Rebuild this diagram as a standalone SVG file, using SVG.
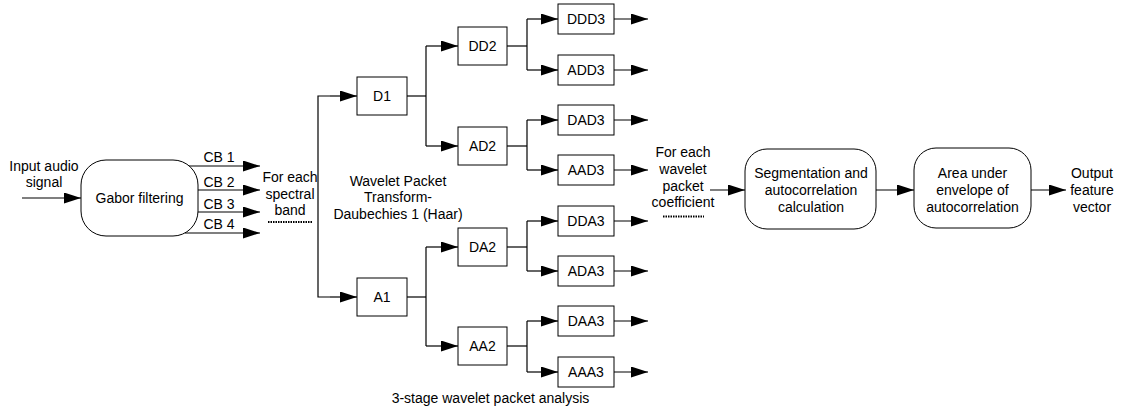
<svg xmlns="http://www.w3.org/2000/svg" width="1125" height="410" viewBox="0 0 1125 410">
  <style>
    text { font-family: "Liberation Sans", Arial, sans-serif; font-size: 14px; fill: #000; text-anchor: middle; }
    .box { fill: #fff; stroke: #000; stroke-width: 1; }
    .wire { fill: none; stroke: #000; stroke-width: 1.2; }
    .arrow { fill: none; stroke: #000; stroke-width: 1.2; marker-end: url(#head); }
    .dots { fill: none; stroke: #000; stroke-width: 2; stroke-dasharray: 1.5 1; }
  </style>
  <defs>
    <marker id="head" markerUnits="userSpaceOnUse" markerWidth="17" markerHeight="11" refX="17" refY="5.5" orient="auto">
      <path d="M0,0 L17,5.5 L0,11 Z" fill="#000"/>
    </marker>
  </defs>

  <rect width="1125" height="410" fill="#fff"/>

  <!-- connectors -->
  <g id="connectors">
    <!-- input and Gabor outputs -->
    <line class="arrow" x1="22" y1="198" x2="81" y2="198"/>
    <line class="arrow" x1="189" y1="166" x2="260" y2="166"/>
    <line class="arrow" x1="198" y1="190" x2="260" y2="190"/>
    <line class="arrow" x1="198" y1="212" x2="260" y2="212"/>
    <line class="arrow" x1="185" y1="233" x2="260" y2="233"/>
    <!-- split into D1 / A1 -->
    <polyline class="wire" points="330,96 318,96 318,297 330,297"/>
    <line class="arrow" x1="330" y1="96" x2="357" y2="96"/>
    <line class="arrow" x1="330" y1="297" x2="357" y2="297"/>
    <!-- level 1 to level 2 -->
    <line class="wire" x1="407" y1="96" x2="426" y2="96"/>
    <line class="wire" x1="426" y1="46" x2="426" y2="146"/>
    <line class="arrow" x1="426" y1="46" x2="458" y2="46"/>
    <line class="arrow" x1="426" y1="146" x2="458" y2="146"/>
    <line class="wire" x1="407" y1="297" x2="426" y2="297"/>
    <line class="wire" x1="426" y1="247" x2="426" y2="346"/>
    <line class="arrow" x1="426" y1="247" x2="458" y2="247"/>
    <line class="arrow" x1="426" y1="346" x2="458" y2="346"/>
    <!-- level 2 to level 3 -->
    <line class="wire" x1="507" y1="46" x2="527" y2="46"/>
    <line class="wire" x1="527" y1="19" x2="527" y2="70"/>
    <line class="arrow" x1="527" y1="19" x2="558" y2="19"/>
    <line class="arrow" x1="527" y1="70" x2="558" y2="70"/>
    <line class="wire" x1="507" y1="146" x2="527" y2="146"/>
    <line class="wire" x1="527" y1="120" x2="527" y2="170"/>
    <line class="arrow" x1="527" y1="120" x2="558" y2="120"/>
    <line class="arrow" x1="527" y1="170" x2="558" y2="170"/>
    <line class="wire" x1="507" y1="247" x2="527" y2="247"/>
    <line class="wire" x1="527" y1="221" x2="527" y2="271"/>
    <line class="arrow" x1="527" y1="221" x2="558" y2="221"/>
    <line class="arrow" x1="527" y1="271" x2="558" y2="271"/>
    <line class="wire" x1="507" y1="346" x2="527" y2="346"/>
    <line class="wire" x1="527" y1="321" x2="527" y2="372"/>
    <line class="arrow" x1="527" y1="321" x2="558" y2="321"/>
    <line class="arrow" x1="527" y1="372" x2="558" y2="372"/>
    <!-- level 3 outputs -->
    <line class="arrow" x1="614" y1="19" x2="648" y2="19"/>
    <line class="arrow" x1="614" y1="70" x2="648" y2="70"/>
    <line class="arrow" x1="614" y1="120" x2="648" y2="120"/>
    <line class="arrow" x1="614" y1="170" x2="648" y2="170"/>
    <line class="arrow" x1="614" y1="221" x2="648" y2="221"/>
    <line class="arrow" x1="614" y1="271" x2="648" y2="271"/>
    <line class="arrow" x1="614" y1="321" x2="648" y2="321"/>
    <line class="arrow" x1="614" y1="372" x2="648" y2="372"/>
    <!-- processing chain -->
    <line class="arrow" x1="710" y1="190" x2="745" y2="190"/>
    <line class="arrow" x1="876" y1="190" x2="914" y2="190"/>
    <line class="arrow" x1="1031" y1="190" x2="1066" y2="190"/>
  </g>

  <!-- input label -->
  <g id="input-label">
    <text x="44" y="171">Input audio</text>
    <text x="44" y="187">signal</text>
  </g>

  <!-- Gabor filter bank -->
  <g id="gabor">
    <rect class="box" x="81" y="160" width="117" height="76" rx="25" ry="25"/>
    <text x="139.5" y="203">Gabor filtering</text>
  </g>

  <g id="band-labels">
    <text x="219" y="162">CB 1</text>
    <text x="219" y="187">CB 2</text>
    <text x="219" y="209">CB 3</text>
    <text x="219" y="229">CB 4</text>
  </g>

  <g id="per-band">
    <text x="290" y="182">For each</text>
    <text x="290" y="198.5">spectral</text>
    <text x="290" y="215">band</text>
    <line class="dots" x1="268" y1="222" x2="312" y2="222"/>
  </g>

  <g id="wpt-label">
    <text x="398" y="185.5">Wavelet Packet</text>
    <text x="398" y="202">Transform-</text>
    <text x="398" y="218.5">Daubechies 1 (Haar)</text>
  </g>

  <!-- level 1 -->
  <g id="D1"><rect class="box" x="357" y="77" width="50" height="38"/><text x="382" y="101">D1</text></g>
  <g id="A1"><rect class="box" x="357" y="278" width="50" height="38"/><text x="382" y="302">A1</text></g>

  <!-- level 2 -->
  <g id="DD2"><rect class="box" x="458" y="27" width="49" height="38"/><text x="482.5" y="51">DD2</text></g>
  <g id="AD2"><rect class="box" x="458" y="127" width="49" height="38"/><text x="482.5" y="151">AD2</text></g>
  <g id="DA2"><rect class="box" x="458" y="228" width="49" height="38"/><text x="482.5" y="252">DA2</text></g>
  <g id="AA2"><rect class="box" x="458" y="327" width="49" height="38"/><text x="482.5" y="351">AA2</text></g>

  <!-- level 3 -->
  <g id="DDD3"><rect class="box" x="558" y="4" width="56" height="30"/><text x="586" y="24">DDD3</text></g>
  <g id="ADD3"><rect class="box" x="558" y="55" width="56" height="30"/><text x="586" y="75">ADD3</text></g>
  <g id="DAD3"><rect class="box" x="558" y="105" width="56" height="30"/><text x="586" y="125">DAD3</text></g>
  <g id="AAD3"><rect class="box" x="558" y="155" width="56" height="30"/><text x="586" y="175">AAD3</text></g>
  <g id="DDA3"><rect class="box" x="558" y="206" width="56" height="30"/><text x="586" y="226">DDA3</text></g>
  <g id="ADA3"><rect class="box" x="558" y="256" width="56" height="30"/><text x="586" y="276">ADA3</text></g>
  <g id="DAA3"><rect class="box" x="558" y="306" width="56" height="30"/><text x="586" y="326">DAA3</text></g>
  <g id="AAA3"><rect class="box" x="558" y="357" width="56" height="30"/><text x="586" y="377">AAA3</text></g>

  <g id="stage-caption">
    <text x="490.5" y="403">3-stage wavelet packet analysis</text>
  </g>

  <g id="per-coefficient">
    <text x="683" y="157">For each</text>
    <text x="683" y="174">wavelet</text>
    <text x="683" y="191">packet</text>
    <text x="683" y="207">coefficient</text>
    <line class="dots" x1="663" y1="216.5" x2="704" y2="216.5"/>
  </g>

  <!-- feature extraction -->
  <g id="segmentation">
    <rect class="box" x="745" y="149" width="131" height="80" rx="22" ry="22"/>
    <text x="811" y="178">Segmentation and</text>
    <text x="811" y="195">autocorrelation</text>
    <text x="811" y="212">calculation</text>
  </g>

  <g id="area">
    <rect class="box" x="914" y="148" width="117" height="80" rx="22" ry="22"/>
    <text x="972.5" y="178">Area under</text>
    <text x="972.5" y="195">envelope of</text>
    <text x="972.5" y="212">autocorrelation</text>
  </g>

  <g id="output-label">
    <text x="1092" y="178">Output</text>
    <text x="1092" y="195">feature</text>
    <text x="1092" y="212">vector</text>
  </g>
</svg>
